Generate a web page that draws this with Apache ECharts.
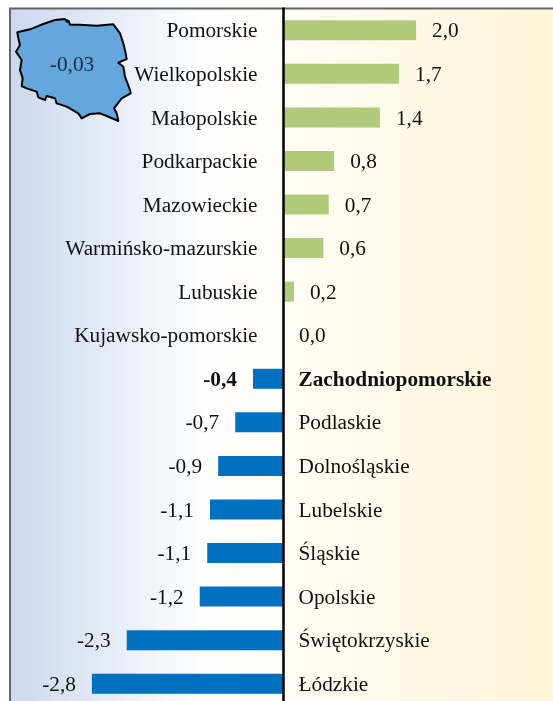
<!DOCTYPE html>
<html><head><meta charset="utf-8">
<style>html,body{margin:0;padding:0;overflow:hidden;background:#fff}#c{width:553px;height:701px}</style>
<script src="https://cdn.jsdelivr.net/npm/echarts@6/dist/echarts.min.js"></script>
</head><body><div id="c"></div>
<script>
const regions = ['Pomorskie','Wielkopolskie','Małopolskie','Podkarpackie','Mazowieckie','Warmińsko-mazurskie','Lubuskie','Kujawsko-pomorskie','Zachodniopomorskie','Podlaskie','Dolnośląskie','Lubelskie','Śląskie','Opolskie','Świętokrzyskie','Łódzkie'];
const values = [1.95,1.70,1.42,0.75,0.67,0.59,0.16,0,-0.44,-0.70,-0.95,-1.07,-1.11,-1.22,-2.29,-2.80];
const valueLabels = ['2,0','1,7','1,4','0,8','0,7','0,6','0,2','0,0','-0,4','-0,7','-0,9','-1,1','-1,1','-1,2','-2,3','-2,8'];
const highlighted = 'Zachodniopomorskie';
const mapLabel = '-0,03';
const outline = [[22,67],[60,58],[100,42],[135,30],[165,27],[172,36],[167,30],[176,33],[180,44],[210,44],[260,47],[310,43],[330,70],[340,100],[347,130],[350,147],[325,158],[340,170],[345,200],[360,240],[362,250],[335,265],[312,295],[320,310],[325,333],[290,318],[270,310],[240,312],[215,325],[205,310],[170,290],[140,280],[135,265],[110,258],[105,270],[85,262],[80,245],[50,235],[35,228],[38,205],[30,180],[35,150],[18,125],[30,105],[25,85],[22,67]];

const FONT = '"Liberation Serif","Times New Roman",serif';
const SIZE = 21.3;

const chart = echarts.init(document.getElementById('c'));
chart.setOption({
  animation: false,
  grid: {
    left: 10, top: 8.5, width: 546, height: 697, show: true,
    outerBoundsMode: 'none',
    borderColor: '#666', borderWidth: 2,
    backgroundColor: new echarts.graphic.LinearGradient(0, 0, 1, 0, [
      { offset: 0, color: '#cbd8ef' },
      { offset: 0.36, color: '#ffffff' },
      { offset: 1, color: '#fff4d6' }
    ])
  },
  xAxis: { type: 'value', min: -4, max: 4, show: false },
  yAxis: {
    type: 'category', data: regions, inverse: true,
    axisLine: { show: true, onZero: true, lineStyle: { color: '#000', width: 2.5 } },
    axisTick: { show: false }, splitLine: { show: false }, axisLabel: { show: false }, z: 5
  },
  series: [{
    type: 'bar', barWidth: 20,
    data: values.map((v, i) => ({
      value: v,
      itemStyle: { color: v < 0 ? '#0070c0' : '#afca7b' },
      label: {
        show: true, position: v < 0 ? 'left' : 'right', distance: 16, offset: [0, 1.5],
        formatter: valueLabels[i], color: '#111', fontFamily: FONT, fontSize: SIZE,
        fontWeight: regions[i] === highlighted ? 'bold' : 'normal'
      }
    }))
  }, {
    type: 'scatter', symbolSize: 1, itemStyle: { color: 'transparent', opacity: 1 }, silent: true, z: 4,
    data: regions.map((name, i) => ({
      value: [0, i],
      label: {
        show: true, position: values[i] < 0 ? 'right' : 'left', distance: values[i] < 0 ? 15 : 25, offset: [0, 1.5],
        formatter: name, color: '#111', fontFamily: FONT, fontSize: SIZE,
        fontWeight: name === highlighted ? 'bold' : 'normal'
      }
    }))
  }],
  graphic: [
    { type: 'polygon', z: 10,
      shape: { points: outline.map(p => [10 + p[0] / 3, 10 + p[1] / 3]) },
      style: { fill: '#65a7dc', stroke: '#000', lineWidth: 2, lineJoin: 'round' } },
    { type: 'text', z: 11, x: 72, y: 65,
      style: { text: mapLabel, fill: '#1a2a3a', font: SIZE + 'px ' + FONT, align: 'center', verticalAlign: 'middle' } }
  ]
});
</script></body></html>
